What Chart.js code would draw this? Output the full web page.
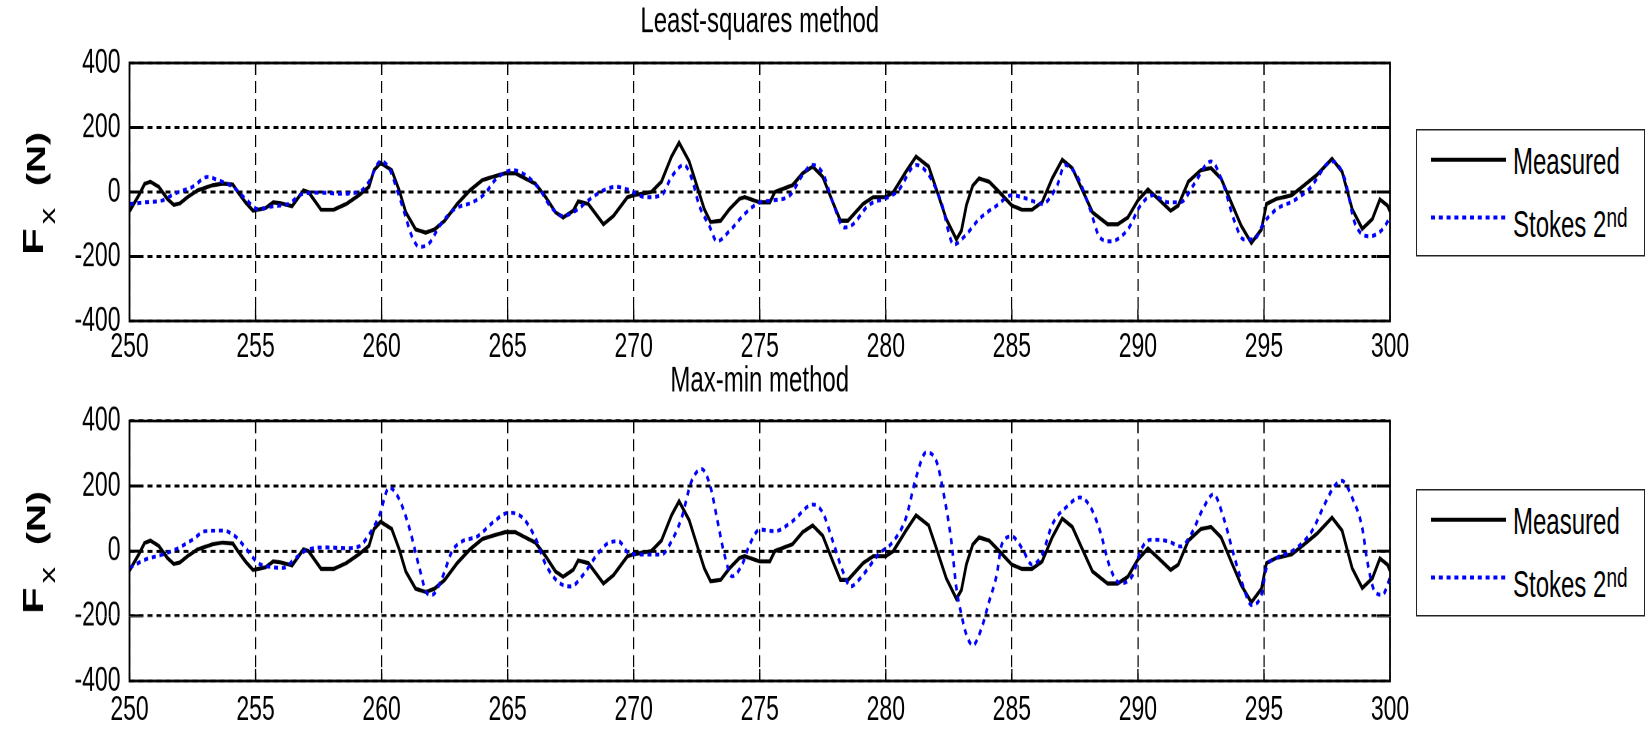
<!DOCTYPE html>
<html>
<head>
<meta charset="utf-8">
<script src="https://cdn.jsdelivr.net/npm/chart.js@4.4.1/dist/chart.umd.min.js"></script>
<style>
html, body { margin: 0; padding: 0; background: #fff; overflow: hidden; width: 1648px; height: 729px; }
#page { position: absolute; left: 0; top: 0; width: 1648px; height: 486px; transform: scaleY(1.5); transform-origin: 0 0; }
.cv { position: absolute; left: 0; width: 1648px; height: 243px; }
.legend { position: absolute; left: 1416px; width: 229px; height: 85px; box-sizing: border-box; border: 1.2px solid #222; background: #fff;
  font-family: "Liberation Sans", Arial, Helvetica, sans-serif; font-size: 24px; line-height: 24px; color: #000; }
.legend svg { position: absolute; left: 13px; }
.legend .t { position: absolute; left: 96px; white-space: nowrap; }
.legend .sup { font-size: 19px; position: relative; top: -7px; }
</style>
</head>
<body>
<div id="page">
  <canvas id="c1" class="cv" width="1648" height="243" style="top:0px"></canvas>
  <canvas id="c2" class="cv" width="1648" height="243" style="top:243px"></canvas>
  <div class="legend" style="top:86px">
    <svg width="78" height="80" style="top:0"><line x1="1" y1="19.5" x2="76" y2="19.5" stroke="#000" stroke-width="2.7"/><line x1="1" y1="58" x2="76" y2="58" stroke="#0000ff" stroke-width="2.6" stroke-dasharray="4 3.8"/></svg>
    <div class="t" style="top:9px">Measured</div>
    <div class="t" style="top:51px">Stokes 2<span class="sup">nd</span></div>
  </div>
  <div class="legend" style="top:326px">
    <svg width="78" height="80" style="top:0"><line x1="1" y1="19.5" x2="76" y2="19.5" stroke="#000" stroke-width="2.7"/><line x1="1" y1="58" x2="76" y2="58" stroke="#0000ff" stroke-width="2.6" stroke-dasharray="4 3.8"/></svg>
    <div class="t" style="top:9px">Measured</div>
    <div class="t" style="top:51px">Stokes 2<span class="sup">nd</span></div>
  </div>
</div>
<script>
// ---------------- DATA ----------------
const titles = ['Least-squares method', 'Max-min method'];
const xTicks = [250, 255, 260, 265, 270, 275, 280, 285, 290, 295, 300];
const yTicks = [-400, -200, 0, 200, 400];

// Measured force (time s, Fx N)
const measured = [
  [250,-60],[250.37,-10],[250.6,25],[250.83,32],[251.16,16],[251.5,-21],[251.76,-40],[252.0,-35],[252.3,-16],[252.7,5],
  [253.3,21],[253.7,26],[254.1,23],[254.3,0],[254.6,-32],[254.9,-58],[255.4,-50],[255.7,-32],[256.0,-35],[256.45,-44],
  [256.9,5],[257.1,0],[257.6,-55],[258.1,-55],[258.6,-37],[259.1,-10],[259.5,16],[259.7,68],[259.96,90],[260.4,68],
  [260.7,5],[260.96,-63],[261.35,-116],[261.75,-126],[262.1,-116],[262.5,-89],[263.0,-37],[263.5,5],[264.0,37],[264.4,47],
  [264.9,58],[265.3,58],[265.7,42],[266.1,26],[266.5,-15],[266.9,-63],[267.2,-79],[267.6,-58],[267.8,-29],[268.2,-37],
  [268.8,-100],[269.2,-74],[269.75,-16],[270.0,-10],[270.7,0],[271.1,32],[271.5,110],[271.8,153],[272.2,95],[272.5,21],
  [272.8,-53],[273.05,-93],[273.45,-89],[273.8,-53],[274.2,-21],[274.4,-16],[275.0,-32],[275.4,-32],[275.6,0],[276.3,21],
  [276.7,58],[277.1,79],[277.5,47],[277.9,-32],[278.2,-89],[278.5,-89],[279.1,-37],[279.5,-16],[280.0,-16],[280.3,0],
  [280.8,63],[281.2,110],[281.7,79],[282.0,10],[282.4,-84],[282.8,-147],[283.0,-120],[283.2,-40],[283.45,20],[283.7,42],
  [284.1,32],[284.5,0],[285.0,-42],[285.4,-55],[285.8,-55],[286.2,-32],[286.6,42],[287.0,100],[287.4,74],[287.8,5],
  [288.2,-63],[288.8,-100],[289.2,-100],[289.6,-79],[290.0,-26],[290.4,8],[290.8,-21],[291.3,-58],[291.6,-42],[292.0,32],
  [292.5,68],[292.9,74],[293.3,42],[293.7,-32],[294.1,-105],[294.5,-158],[294.9,-116],[295.1,-37],[295.5,-21],[296.1,-10],
  [296.6,21],[297.1,53],[297.7,103],[298.1,63],[298.5,-53],[298.9,-114],[299.3,-84],[299.6,-23],[299.9,-42],[300,-60]
];

// Stokes 2nd order, least-squares method
const stokesLeastSquares = [
  [250,-37],[250.6,-32],[251.3,-26],[251.8,-5],[252.5,16],[253.1,47],[253.5,37],[254.1,16],[254.6,-21],[255.1,-53],
  [255.7,-44],[256.3,-37],[256.9,-5],[257.5,-2],[258.4,-5],[259.1,0],[259.5,32],[259.96,95],[260.3,74],[260.6,10],
  [260.9,-63],[261.2,-137],[261.5,-170],[261.9,-158],[262.3,-105],[262.9,-53],[263.6,-32],[264.1,-5],[264.5,37],[265.2,68],
  [265.8,47],[266.3,5],[266.7,-45],[267.2,-74],[267.7,-58],[268.2,-26],[268.8,5],[269.3,16],[269.75,8],[270.5,-16],
  [271.1,-10],[271.5,47],[272.0,84],[272.3,42],[272.6,-42],[273.0,-105],[273.3,-153],[273.8,-121],[274.4,-68],[275.0,-32],
  [275.5,-26],[276.2,-10],[276.7,53],[277.1,84],[277.5,58],[277.9,-32],[278.35,-110],[278.7,-100],[279.3,-42],[280.1,-16],
  [280.5,5],[281.2,84],[281.7,53],[282.2,-32],[282.7,-163],[283.2,-131],[283.7,-84],[284.4,-42],[285.0,-10],[285.6,-21],
  [286.2,-37],[286.8,21],[287.1,84],[287.6,47],[288.1,-53],[288.5,-142],[288.9,-153],[289.6,-116],[290.1,-42],[290.6,-10],
  [291.2,-32],[291.7,-32],[292.2,21],[292.9,95],[293.4,21],[293.8,-84],[294.2,-147],[294.6,-147],[295.0,-95],[295.5,-53],
  [296.2,-26],[296.8,10],[297.7,95],[298.2,42],[298.6,-95],[299.2,-137],[299.7,-116],[300,-79]
];

// Stokes 2nd order, max-min method
const stokesMaxMin = [
  [250,-52],[250.6,-27],[251.3,-11],[251.8,4],[252.5,35],[253.0,61],[253.7,63],[254.2,45],[254.7,0],[255.1,-37],
  [255.7,-50],[256.1,-52],[256.6,-21],[257.05,4],[257.8,11],[258.6,9],[259.1,14],[259.5,50],[259.9,107],[260.3,195],
  [260.7,159],[261.1,71],[261.5,-52],[261.8,-130],[262.0,-135],[262.4,-83],[262.8,0],[263.2,30],[263.8,45],[264.4,87],
  [265.05,118],[265.6,102],[266.1,40],[266.5,-40],[267.0,-95],[267.5,-109],[268.0,-73],[268.5,-16],[269.0,25],[269.4,30],
  [269.8,-6],[270.5,-11],[271.1,-11],[271.5,30],[271.9,102],[272.3,216],[272.7,252],[273.05,196],[273.3,102],[273.6,-11],
  [273.9,-78],[274.3,-42],[274.6,20],[275.0,66],[275.6,61],[276.3,92],[277.1,143],[277.5,118],[277.9,30],[278.3,-63],
  [278.6,-109],[279.1,-73],[279.7,-11],[280.3,30],[280.8,102],[281.2,226],[281.6,303],[282.0,278],[282.3,174],[282.6,30],
  [282.8,-114],[283.0,-196],[283.2,-258],[283.45,-290],[283.8,-237],[284.1,-155],[284.4,-73],[284.6,20],[285.0,45],[285.4,9],
  [285.8,-42],[286.2,-11],[286.6,81],[287.2,138],[287.7,165],[288.1,138],[288.5,61],[288.9,-52],[289.3,-99],[289.8,-73],
  [290.1,0],[290.5,35],[291.2,30],[291.7,14],[292.1,50],[292.6,133],[293.0,175],[293.4,102],[293.8,-11],[294.2,-114],
  [294.5,-166],[294.9,-135],[295.1,-52],[295.5,-21],[296.2,4],[296.9,61],[297.4,143],[297.8,200],[298.1,216],[298.5,164],
  [298.9,71],[299.1,-32],[299.4,-125],[299.7,-135],[300,-83]
];

// ---------------- CHARTS ----------------
const FONT = '"Liberation Sans", Arial, Helvetica, sans-serif';
const toXY = arr => arr.map(p => ({ x: p[0], y: p[1] }));

const framePlugin = {
  id: 'frame',
  afterDraw(chart) {
    const ctx = chart.ctx, a = chart.chartArea, sx = chart.scales.x, sy = chart.scales.y;
    ctx.save();
    ctx.strokeStyle = '#000';
    ctx.setLineDash([]);
    ctx.lineWidth = 1.3;
    xTicks.slice(1, -1).forEach(v => {
      const px = sx.getPixelForValue(v);
      ctx.beginPath();
      ctx.moveTo(px, a.bottom); ctx.lineTo(px, a.bottom - 8);
      ctx.moveTo(px, a.top); ctx.lineTo(px, a.top + 8);
      ctx.stroke();
    });
    ctx.lineWidth = 2;
    yTicks.slice(1, -1).forEach(v => {
      const py = sy.getPixelForValue(v);
      ctx.beginPath();
      ctx.moveTo(a.left, py); ctx.lineTo(a.left + 13, py);
      ctx.moveTo(a.right, py); ctx.lineTo(a.right - 13, py);
      ctx.stroke();
    });
    ctx.lineWidth = 1.8;
    ctx.strokeRect(a.left, a.top, a.right - a.left, a.bottom - a.top);
    ctx.restore();
  }
};

const titlePlugin = {
  id: 'ptitle',
  afterDraw(chart, args, opts) {
    const ctx = chart.ctx, a = chart.chartArea;
    ctx.save();
    ctx.fillStyle = '#000';
    ctx.font = '24px ' + FONT;
    ctx.textAlign = 'center';
    ctx.textBaseline = 'middle';
    ctx.fillText(opts.text, (a.left + a.right) / 2, opts.y);
    ctx.restore();
  }
};

const ylabelPlugin = {
  id: 'ylab',
  afterDraw(chart) {
    const ctx = chart.ctx, a = chart.chartArea;
    const cy = (a.top + a.bottom) / 2;
    ctx.save();
    ctx.translate(0, cy);
    ctx.rotate(-Math.PI / 2);
    ctx.fillStyle = '#000';
    ctx.textAlign = 'center';
    ctx.textBaseline = 'alphabetic';
    ctx.font = 'bold 29px ' + FONT;
    ctx.fillText('F', -33, 43);
    ctx.font = '22px ' + FONT;
    ctx.fillText('x', -16, 55);
    ctx.font = 'bold 26px ' + FONT;
    ctx.fillText('(N)', 22, 45);
    ctx.restore();
  }
};

function makeChart(id, stokes, title, L) {
  return new Chart(document.getElementById(id), {
    type: 'line',
    data: {
      datasets: [
        { label: 'Measured', data: toXY(measured), borderColor: '#000000', borderWidth: 2.7,
          pointRadius: 0, tension: 0, fill: false, order: 1 },
        { label: 'Stokes 2nd', data: toXY(stokes), borderColor: '#0000ff', borderWidth: 2.6,
          borderDash: [4, 3.8], pointRadius: 0, cubicInterpolationMode: 'monotone', fill: false, order: 0 }
      ]
    },
    options: {
      responsive: false,
      animation: false,
      devicePixelRatio: 2,
      layout: { padding: { left: 0, right: 258, top: L.padTop, bottom: 0 } },
      plugins: {
        legend: { display: false },
        tooltip: { enabled: false },
        title: { display: false },
        ptitle: { text: title, y: L.titleY }
      },
      scales: {
        x: {
          type: 'linear', min: 250, max: 300,
          afterBuildTicks: s => { s.ticks = xTicks.map(v => ({ value: v })); },
          afterFit: s => { s.height = L.xHeight; },
          grid: { color: '#000', lineWidth: 1.2, drawTicks: false },
          border: { display: false, dash: [8, 4] },
          ticks: { color: '#000', font: { family: FONT, size: 23, lineHeight: 1 }, padding: L.tickPad,
                   maxRotation: 0, autoSkip: false }
        },
        y: {
          type: 'linear', min: -400, max: 400,
          afterBuildTicks: s => { s.ticks = yTicks.map(v => ({ value: v })); },
          afterFit: s => { s.width = 129.5; },
          grid: { color: '#000', lineWidth: 2, drawTicks: false },
          border: { display: false, dash: [5, 4] },
          ticks: { color: '#000', font: { family: FONT, size: 23, lineHeight: 1 }, padding: 9 }
        }
      }
    },
    plugins: [framePlugin, titlePlugin, ylabelPlugin]
  });
}

makeChart('c1', stokesLeastSquares, titles[0], { padTop: 42, xHeight: 29, titleY: 15, tickPad: 6 });
makeChart('c2', stokesMaxMin, titles[1], { padTop: 37.7, xHeight: 32, titleY: 11.3, tickPad: 8 });
</script>
</body>
</html>
